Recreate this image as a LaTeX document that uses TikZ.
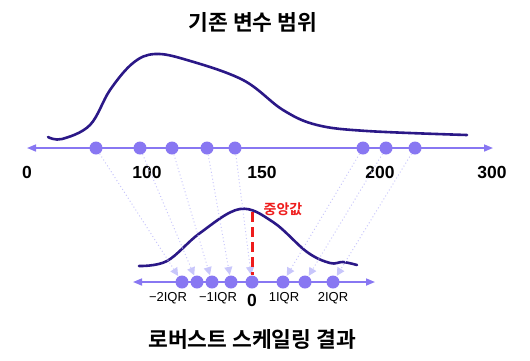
\documentclass[tikz,border=0pt]{standalone}
\usepackage{fontspec}
\setmainfont{Liberation Sans}
\newfontfamily\kr{Noto Sans CJK KR}[BoldFont={Noto Sans CJK KR Bold}]
\usetikzlibrary{arrows.meta}
\definecolor{axiscol}{HTML}{8877F2}
\definecolor{curvecol}{HTML}{2B1887}
\definecolor{mapcol}{HTML}{C8C6FB}
\definecolor{medcol}{HTML}{EE1C1C}
\tikzset{
  axisline/.style={draw=axiscol, line width=1.6pt, {Triangle[length=9pt,width=7pt]}-{Triangle[length=9pt,width=7pt]}},
  datadot/.style={circle, fill=axiscol, inner sep=0pt, minimum size=13pt},
  density/.style={draw=curvecol, line width=2.6pt, line cap=round},
  mapline/.style={draw=mapcol, line width=1pt, dash pattern=on 1pt off 2.5pt, -{Triangle[length=8pt,width=8pt]}, shorten >=0.5pt},
  numlabel/.style={font=\bfseries\fontsize{17.5}{17.5}\selectfont, text=black},
  iqrlabel/.style={font=\fontsize{13}{13}\selectfont, text=black},
  titlelabel/.style={font=\kr\bfseries\fontsize{21.5}{21.5}\selectfont, text=black},
}
\begin{document}
\begin{tikzpicture}[x=1pt,y=-1pt]
\useasboundingbox (0,0) rectangle (530,360);
% titles
\node[titlelabel] (t1) at (253,22) {기존 변수 범위};
\node[titlelabel] (t2) at (252,339) {로버스트 스케일링 결과};
% top distribution
\draw[density] plot[smooth, tension=0.6] coordinates {(48,137) (62,139) (90,125) (110,90) (133,63) (155,54) (187,60) (243,80) (283,110) (317,125) (367,131) (467,135)};
% top axis
\coordinate (ta) at (27,148);
\coordinate (tb) at (493,148);
\draw[axisline] (ta) -- (tb);
\foreach \n/\x in {a1/96,a2/140,a3/172,a4/207,a5/235,a6/363,a7/386,a8/415}
  \node[datadot] (\n) at (\x,148) {};
\node[numlabel] (l0) at (27,172) {0};
\node[numlabel] (l100) at (147,172) {100};
\node[numlabel] (l150) at (262,172) {150};
\node[numlabel] (l200) at (380,172) {200};
\node[numlabel] (l300) at (492,172) {300};
% bottom distribution
\draw[density] plot[smooth, tension=0.6] coordinates {(139,266) (167,261) (200,233) (240,209) (273,222) (307,252) (330,263) (343,262) (357,265)};
% bottom axis
\coordinate (ba) at (133,282);
\coordinate (bb) at (375,282);
\draw[axisline] (ba) -- (bb);
\foreach \n/\x in {b1/182,b2/197,b3/212,b4/231,b5/252,b6/283,b7/305,b8/333}
  \node[datadot] (\n) at (\x,282) {};
% mapping lines
\foreach \i in {1,...,8}
  \draw[mapline] (a\i) -- (b\i);
% median
\coordinate (mtop) at (252,212);
\draw[medcol, line width=3pt, dash pattern=on 10pt off 5pt] (mtop) -- (b5.north);
\node[font=\kr\bfseries\fontsize{14}{14}\selectfont, text=medcol] (med) at (283,209) {중앙값};
% bottom labels
\node[iqrlabel] (m2) at (168,298) {−2IQR};
\node[iqrlabel] (m1) at (218,298) {−1IQR};
\node[numlabel] (z0) at (252,300) {0};
\node[iqrlabel] (p1) at (284,298) {1IQR};
\node[iqrlabel] (p2) at (333,298) {2IQR};
\end{tikzpicture}
\end{document}
